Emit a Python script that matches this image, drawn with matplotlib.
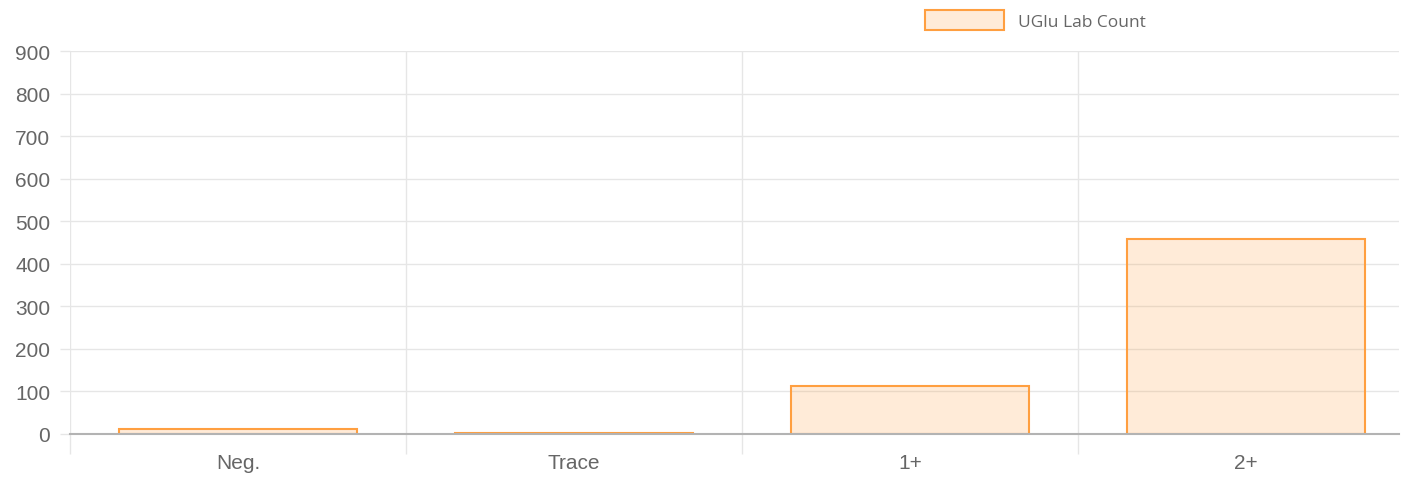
import matplotlib.pyplot as plt
from matplotlib.patches import Patch

categories = ["Neg.", "Trace", "1+", "2+"]
counts = [12, 3, 113, 459]
series_name = "UGlu Lab Count"
y_ticks = [0, 100, 200, 300, 400, 500, 600, 700, 800, 900]

fill = (1.0, 159 / 255, 64 / 255, 0.2)
edge = "#FF9F40"
grid_col = "#E6E6E6"
text_col = "#666666"

plt.rcParams['font.family'] = ['Liberation Sans', 'DejaVu Sans']

fig = plt.figure(figsize=(14.08, 4.81), dpi=100)
ax = fig.add_axes([70 / 1408, 46 / 481, 1329 / 1408, 383 / 481])

x = list(range(len(categories)))
ax.bar(x, counts, width=0.71, color=fill, edgecolor=edge, linewidth=1.5, zorder=3)

ax.set_xlim(-0.5, 3.455)
ax.set_ylim(0, 900)

ax.set_xticks(x)
ax.set_xticklabels(categories)
ax.set_xticks([-0.5, 0.5, 1.5, 2.5], minor=True)
ax.tick_params(axis='x', which='major', length=0, pad=14, labelsize=15, labelcolor=text_col)
ax.tick_params(axis='x', which='minor', length=14.4, width=1, color=grid_col)
ax.grid(axis='x', which='minor', color=grid_col, linewidth=1, zorder=0)

ax.set_yticks(y_ticks)
ax.tick_params(axis='y', length=7.2, width=1, color=grid_col, pad=7, labelsize=15, labelcolor=text_col)
ax.grid(axis='y', which='major', color=grid_col, linewidth=1, zorder=0)

for side in ['top', 'right', 'left']:
    ax.spines[side].set_visible(False)
ax.spines['bottom'].set_color('#B3B3B3')
ax.spines['bottom'].set_linewidth(1.5)
ax.spines['bottom'].set_zorder(4)

handle = Patch(facecolor=fill, edgecolor=edge, linewidth=1.5)
fig.legend([handle], [series_name], loc='center left', bbox_to_anchor=(909 / 1408, 1 - 21 / 481),
           frameon=False, handlelength=4.6, handleheight=1.45,
           handletextpad=0.75, labelcolor=text_col, prop={'family': ['Open Sans', 'DejaVu Sans'], 'size': 12.5})

fig.savefig("out.png", dpi=100)
